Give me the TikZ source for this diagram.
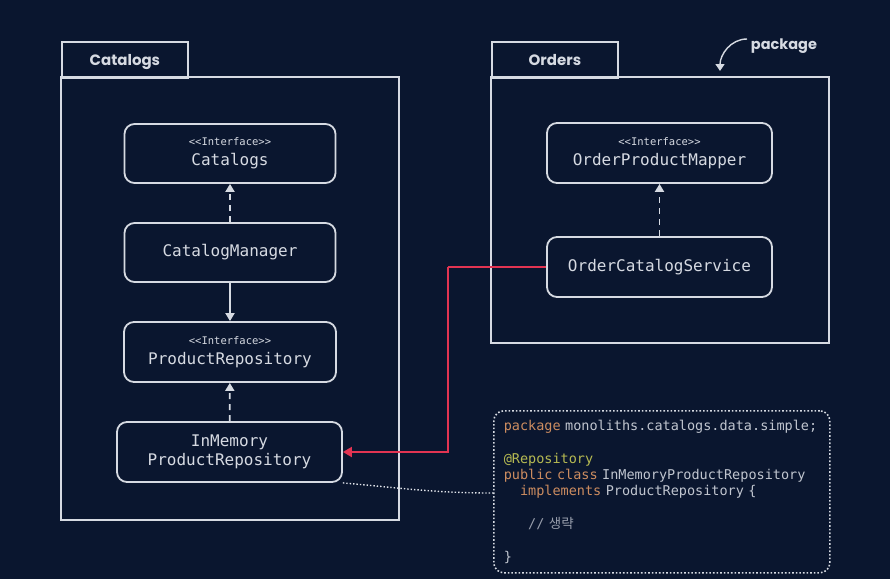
\documentclass[tikz,border=0pt]{standalone}
\usepackage{fontspec}
\setmonofont{DejaVu Sans Mono}
\setsansfont{Poppins}
\newfontfamily\krfont{Noto Sans CJK KR}
\definecolor{bgnavy}{RGB}{10,22,47}
\definecolor{linegray}{RGB}{214,218,226}
\definecolor{linkred}{RGB}{226,52,82}
\definecolor{kwamber}{RGB}{204,140,96}
\definecolor{annotgreen}{RGB}{182,186,82}
\definecolor{codegray}{RGB}{192,197,207}
\definecolor{commentgray}{RGB}{152,158,172}
\usetikzlibrary{arrows.meta,positioning,calc}
\newcommand{\ifacetag}{{\fontsize{10.5}{12}\selectfont <{}<Interface>{}>}}

\begin{document}
\begin{tikzpicture}[x=1pt,y=-1pt,
    line width=1.8pt,
    classbox/.style={draw=linegray, rounded corners=10pt, align=center, text=linegray,
        font=\fontsize{16}{19}\selectfont\ttfamily, inner sep=0pt},
    pkgtab/.style={draw=linegray, minimum width=126pt, minimum height=36pt, anchor=north west,
        text=linegray, font=\fontsize{15}{18}\selectfont\sffamily\bfseries, inner sep=0pt,
        text depth=-2pt},
    realize/.style={draw=linegray, dash pattern=on 6pt off 5pt, -{Triangle[width=9pt,length=8pt]}},
    uses/.style={draw=linegray, -{Triangle[width=9pt,length=8pt]}},
    redlink/.style={draw=linkred, line width=2pt}]

% background and page size
\fill[bgnavy] (0,0) rectangle (890,579);
\useasboundingbox (0,0) rectangle (890,579);

% packages
\node[pkgtab] (cattab) at (61,41) {Catalogs};
\draw[linegray] (61,77) rectangle (399,520);
\node[pkgtab] (ordtab) at (491,41) {Orders};
\draw[linegray] (491,77) rectangle (829,343);

\node[text=linegray, font=\fontsize{14.5}{16}\selectfont\sffamily\bfseries, anchor=west, inner sep=0pt] (pkglabel) at (750,46) {package};
\coordinate (pkgtip) at (720,71);
\draw[linegray, line width=1.4pt, -{Triangle[width=9pt,length=7pt]}] ($(pkglabel.west)+(-3,-7)$) to[out=180,in=90] (pkgtip);

% Catalogs classes
\node[classbox, minimum width=211pt, minimum height=59pt] (catalogs) at (230,153.5)
    {\ifacetag\\[1pt]Catalogs};
\node[classbox, minimum width=211pt, minimum height=59pt] (manager) at (230,252.5) {CatalogManager};
\node[classbox, minimum width=212pt, minimum height=60pt] (repo) at (230,352)
    {\ifacetag\\[1pt]ProductRepository};
\node[classbox, minimum width=225pt, minimum height=60pt] (inmem) at (229.5,452)
    {InMemory\\ProductRepository};

% Orders classes
\node[classbox, minimum width=225pt, minimum height=60pt] (mapper) at (659.5,153)
    {\ifacetag\\[1pt]OrderProductMapper};
\node[classbox, minimum width=225pt, minimum height=60pt] (service) at (659.5,267) {OrderCatalogService};

% relations
\draw[realize] (manager) -- (catalogs);
\draw[uses] (manager) -- (repo);
\draw[realize] (inmem) -- (repo);
\draw[realize] (service) -- (mapper);
\coordinate (redbend) at ($(service.west)+(-98,0)$);
\draw[redlink] (service.west) -- (redbend);
\draw[redlink, -{Triangle[width=10pt,length=9pt]}] (redbend) |- (inmem.east);

% source snippet
\node[draw=linegray, line width=1.6pt, dotted, rounded corners=10pt, minimum width=336pt, minimum height=162pt,
    anchor=north west, inner xsep=10pt, inner ysep=0pt, text width=316pt, align=left, text=codegray,
    font=\fontsize{13.5}{16.3}\selectfont\ttfamily] (code) at (493,410) {%
    {\color{kwamber}package} monoliths.catalogs.data.simple;\\[16.3pt]
    {\color{annotgreen}@Repository}\\
    {\color{kwamber}public class} InMemoryProductRepository\\
    \phantom{xx}{\color{kwamber}implements} ProductRepository \{\\[16.3pt]
    \phantom{xxx}{\color{commentgray}// {\krfont 생략}}\\[16.3pt]
    \}};
\draw[linegray!70, line width=1.4pt, dotted] (inmem.south east) to[out=-5,in=180] (code.west |- 0,493);
\end{tikzpicture}
\end{document}
